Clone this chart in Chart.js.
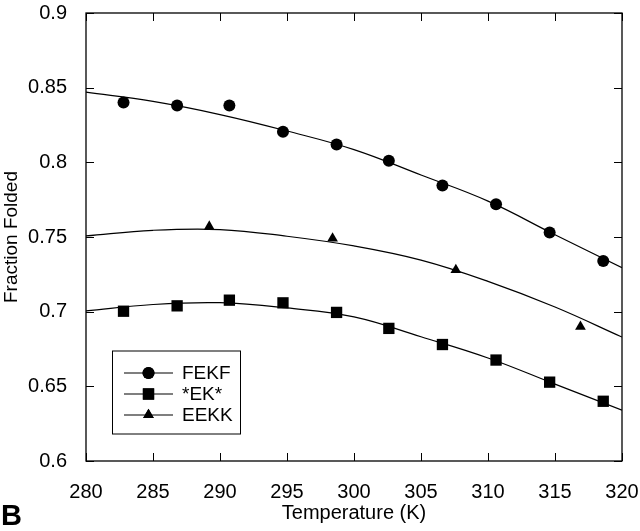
<!DOCTYPE html>
<html>
<head>
<meta charset="utf-8">
<script src="https://cdn.jsdelivr.net/npm/chart.js@4"></script>
<style>
    html, body { margin: 0; padding: 0; background: #fff; }
    #wrap { width: 640px; height: 531px; }
</style>
</head>
<body>
<div id="wrap"><canvas id="foldChart" width="640" height="531"></canvas></div>
<script>
    // ---------------- Data ----------------
    const xTicks = [280, 285, 290, 295, 300, 305, 310, 315, 320];
    const yTicks = [0.6, 0.65, 0.7, 0.75, 0.8, 0.85, 0.9];

    const tempsMeasured = [282.8, 286.8, 290.7, 294.7, 298.7, 302.6, 306.6, 310.6, 314.6, 318.6];
    const fekfValues = [0.840, 0.838, 0.838, 0.8205, 0.812, 0.801, 0.7845, 0.772, 0.753, 0.734];
    const ekValues = [0.7003, 0.7039, 0.7077, 0.7059, 0.6995, 0.6888, 0.678, 0.6676, 0.6528, 0.640];

    const tempsEEKK = [289.2, 298.4, 307.6, 316.9];
    const eekkValues = [0.757, 0.749, 0.728, 0.690];

    // fitted curves, sampled every 5 K
    const fitTemps = [280, 285, 290, 295, 300, 305, 310, 315, 320];
    const fekfFit = [0.847, 0.8408, 0.832, 0.821, 0.8085, 0.7915, 0.774, 0.7515, 0.7295];
    const ekFit = [0.7005, 0.7048, 0.706, 0.7025, 0.6965, 0.6832, 0.669, 0.6515, 0.634];
    const eekkFit = [0.7507, 0.7545, 0.755, 0.7505, 0.744, 0.7345, 0.7203, 0.7031, 0.683];

    const seriesNames = ['FEKF', '*EK*', 'EEKK'];
    const seriesStyles = ['circle', 'rect', 'triangle'];
    const seriesRadius = [6, 8, 6.2];

    const FONT = '"Liberation Sans", Arial, Helvetica, sans-serif';

    function toPoints(xs, ys) {
        return xs.map((x, i) => ({ x: x, y: ys[i] }));
    }

    function fitDataset(ys) {
        return {
            data: toPoints(fitTemps, ys),
            showLine: true,
            borderColor: '#000',
            borderWidth: 1.2,
            pointRadius: 0,
            tension: 0.4,
            fill: false
        };
    }

    function markDataset(xs, ys, k) {
        return {
            label: seriesNames[k],
            data: toPoints(xs, ys),
            showLine: false,
            pointStyle: seriesStyles[k],
            pointRadius: seriesRadius[k],
            pointBackgroundColor: '#000',
            pointBorderColor: '#000',
            pointBorderWidth: 0
        };
    }

    // ---------------- Frame, inward ticks, legend box, panel letter ----------------
    const framePlugin = {
        id: 'frame',
        afterDraw(chart) {
            const ctx = chart.ctx;
            const a = chart.chartArea;
            const xs = chart.scales.x, ys = chart.scales.y;
            const tl = 8;
            ctx.save();
            ctx.strokeStyle = '#000';
            ctx.lineWidth = 1.3;
            ctx.strokeRect(a.left, a.top, a.right - a.left, a.bottom - a.top);

            ctx.lineWidth = 1;
            ctx.beginPath();
            xTicks.forEach(v => {
                const px = Math.round(xs.getPixelForValue(v)) + 0.5;
                ctx.moveTo(px, a.bottom); ctx.lineTo(px, a.bottom - tl);
                ctx.moveTo(px, a.top); ctx.lineTo(px, a.top + tl);
            });
            yTicks.forEach(v => {
                const py = Math.round(ys.getPixelForValue(v)) + 0.5;
                ctx.moveTo(a.left, py); ctx.lineTo(a.left + tl, py);
                ctx.moveTo(a.right, py); ctx.lineTo(a.right - tl, py);
            });
            ctx.stroke();

            // legend
            const bx = 112.5, by = 351, bw = 128, bh = 83;
            ctx.lineWidth = 1;
            ctx.strokeRect(bx, by, bw, bh);
            ctx.font = '19px ' + FONT;
            ctx.textBaseline = 'middle';
            ctx.textAlign = 'left';
            ctx.fillStyle = '#000';
            seriesNames.forEach((name, k) => {
                const ry = 373 + k * 21;
                ctx.beginPath();
                ctx.lineWidth = 1.2;
                ctx.moveTo(124, ry); ctx.lineTo(173, ry);
                ctx.stroke();
                Chart.helpers.drawPoint(ctx, {
                    pointStyle: seriesStyles[k],
                    radius: seriesRadius[k],
                    rotation: 0,
                    borderWidth: 0
                }, 148.5, ry);
                ctx.fill();
                ctx.fillText(name, 182, ry + 1);
            });

            // panel letter
            ctx.font = 'bold 29px ' + FONT;
            ctx.textBaseline = 'alphabetic';
            ctx.fillText('B', 1, 525);
            ctx.restore();
        }
    };

    // ---------------- Chart ----------------
    const chartCtx = document.getElementById('foldChart').getContext('2d');
    new Chart(chartCtx, {
        type: 'scatter',
        data: {
            datasets: [
                fitDataset(fekfFit),
                fitDataset(ekFit),
                fitDataset(eekkFit),
                markDataset(tempsMeasured, fekfValues, 0),
                markDataset(tempsMeasured, ekValues, 1),
                markDataset(tempsEEKK, eekkValues, 2)
            ]
        },
        options: {
            responsive: false,
            animation: false,
            devicePixelRatio: 1,
            layout: { padding: { top: 13, right: 18, left: 0, bottom: 0 } },
            plugins: {
                legend: { display: false },
                tooltip: { enabled: false }
            },
            scales: {
                x: {
                    type: 'linear',
                    min: 280,
                    max: 320,
                    afterBuildTicks: s => { s.ticks = xTicks.map(v => ({ value: v })); },
                    afterFit: s => { s.height = 70; s.paddingLeft = 0; s.paddingRight = 0; },
                    grid: { display: false },
                    border: { display: false },
                    ticks: {
                        color: '#000',
                        padding: 11,
                        maxRotation: 0,
                        font: { family: FONT, size: 20 },
                        callback: v => String(v)
                    },
                    title: {
                        display: true,
                        text: 'Temperature (K)',
                        color: '#000',
                        font: { family: FONT, size: 20 },
                        padding: { top: 0, bottom: 6 }
                    }
                },
                y: {
                    type: 'linear',
                    min: 0.6,
                    max: 0.9,
                    afterBuildTicks: s => { s.ticks = yTicks.map(v => ({ value: v })); },
                    afterFit: s => { s.width = 86; s.paddingTop = 0; s.paddingBottom = 0; },
                    grid: { display: false },
                    border: { display: false },
                    ticks: {
                        color: '#000',
                        padding: 11,
                        font: { family: FONT, size: 20 },
                        callback: v => String(+v.toFixed(2))
                    },
                    title: {
                        display: true,
                        text: 'Fraction Folded',
                        color: '#000',
                        font: { family: FONT, size: 19 },
                        padding: 0
                    }
                }
            }
        },
        plugins: [framePlugin]
    });
</script>
</body>
</html>
